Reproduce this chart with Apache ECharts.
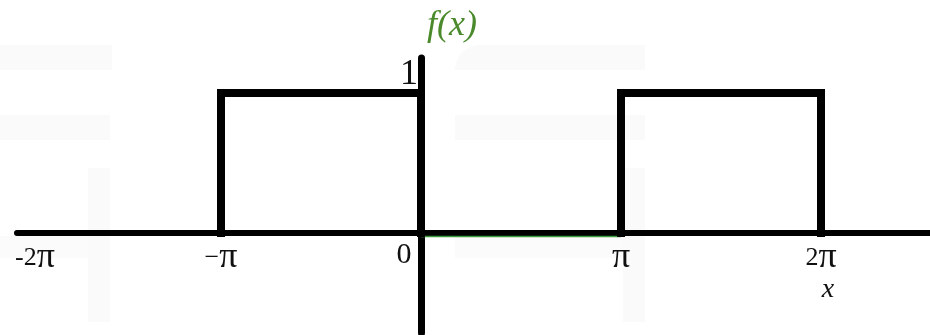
<!DOCTYPE html>
<html>
<head>
<meta charset="UTF-8">
<script src="https://cdn.jsdelivr.net/npm/echarts@6/dist/echarts.min.js"></script>
<style>
body { margin:0; padding:0; background:#fff; }
#chart { width:930px; height:335px; }
</style>
</head>
<body><div id="chart"></div>
<script>
// x values are in units of pi
const xTickValues = [-2, -1, 0, 1, 2];
const xTickLabels = ['-2π', '−π', '0', 'π', '2π'];
const yTickValues = [1];
const yTickLabels = ['1'];

// square wave f(x): 1 on (-π,0) and (π,2π), 0 elsewhere
const pulseLeft = [[-1, 0], [-1, 1], [0, 1], [0, 0]];
const pulseRight = [[1, 0], [1, 1], [2, 1], [2, 0]];
const zeroSegment = [[0, -0.025], [1, -0.025]];

const serif = "'Liberation Serif', 'DejaVu Serif', serif";

const labelRich = {
  d: { fontFamily: serif, fontSize: 26, color: '#111' },
  dl: { fontFamily: serif, fontSize: 26, color: '#111', padding: [0, 0, 0, 28] },
  p: { fontFamily: serif, fontSize: 36, color: '#111' },
  z: { fontFamily: serif, fontSize: 30, color: '#111', padding: [0, 34, 0, 0] },
  x: { fontFamily: serif, fontSize: 28, fontStyle: 'italic', color: '#111', padding: [0, 0, 0, 14] }
};

// split a tick label into digit/sign part and the pi glyph
function tickLabel(v) {
  const t = xTickLabels[xTickValues.indexOf(v)];
  if (t === undefined) return '';
  if (v === 0) return '{z|' + t + '}';
  const head = t.replace('π', '');
  const lead = v === -2 ? 'dl' : 'd';
  let s = (head ? '{' + lead + '|' + head + '}' : '') + '{p|π}';
  if (v === 2) s += '\n{x|x}';
  return s;
}

var chart = echarts.init(document.getElementById('chart'));
chart.setOption({
  animation: false,
  backgroundColor: '#fff',
  graphic: [
    // faint watermark behind the plot
    { type: 'rect', z: -10, shape: { x: 0, y: 45, width: 112, height: 25 }, style: { fill: '#fafafa' } },
    { type: 'rect', z: -10, shape: { x: 0, y: 115, width: 110, height: 25 }, style: { fill: '#fafafa' } },
    { type: 'rect', z: -10, shape: { x: 88, y: 168, width: 22, height: 154 }, style: { fill: '#fafafa' } },
    { type: 'rect', z: -10, shape: { x: 0, y: 236, width: 88, height: 22 }, style: { fill: '#fbfbfb' } },
    { type: 'rect', z: -10, shape: { x: 455, y: 45, width: 190, height: 25, r: [25, 0, 0, 0] }, style: { fill: '#fafafa' } },
    { type: 'rect', z: -10, shape: { x: 455, y: 115, width: 190, height: 25 }, style: { fill: '#fafafa' } },
    { type: 'rect', z: -10, shape: { x: 623, y: 168, width: 22, height: 154 }, style: { fill: '#fafafa' } },
    { type: 'rect', z: -10, shape: { x: 455, y: 236, width: 168, height: 22 }, style: { fill: '#fbfbfb' } }
  ],
  grid: { left: 17, right: 0, top: 58, bottom: 2, containLabel: false, outerBoundsMode: 'none' },
  xAxis: {
    type: 'value',
    min: -2.02,
    max: 2.545,
    position: 'bottom',
    offset: -100,   // moves the axis up to y = 0
    axisLine: { onZero: false, lineStyle: { color: '#000', width: 6 } },
    axisTick: { show: false },
    splitLine: { show: false },
    axisLabel: {
      customValues: xTickValues,
      margin: 7,
      fontFamily: serif,
      fontSize: 28,
      formatter: tickLabel,
      rich: labelRich
    }
  },
  yAxis: {
    type: 'value',
    min: -0.714,
    max: 1.25,
    position: 'left',
    offset: -404,   // moves the axis right to x = 0
    name: 'f(x)',
    nameLocation: 'end',
    nameGap: 14,
    nameTextStyle: {
      fontFamily: serif, fontStyle: 'italic', fontSize: 36, color: '#4b8a2c',
      align: 'left', padding: [0, 0, 0, 6]
    },
    axisLine: { onZero: false, lineStyle: { color: '#000', width: 7 } },
    axisTick: { show: false },
    splitLine: { show: false },
    axisLabel: {
      customValues: yTickValues,
      margin: 3,
      verticalAlign: 'bottom',
      fontFamily: serif,
      fontSize: 36,
      color: '#111',
      formatter: function (v) { return yTickLabels[yTickValues.indexOf(v)] || ''; }
    }
  },
  series: [
    {
      type: 'line', data: zeroSegment, symbol: 'none', z: 1,
      lineStyle: { color: '#3c9a3c', width: 1.5 }
    },
    {
      type: 'line', data: pulseLeft, symbol: 'none', z: 3,
      lineStyle: { color: '#000', width: 8, cap: 'square', join: 'miter' }
    },
    {
      type: 'line', data: pulseRight, symbol: 'none', z: 3,
      lineStyle: { color: '#000', width: 8, cap: 'square', join: 'miter' }
    }
  ]
});
</script>
</body></html>
